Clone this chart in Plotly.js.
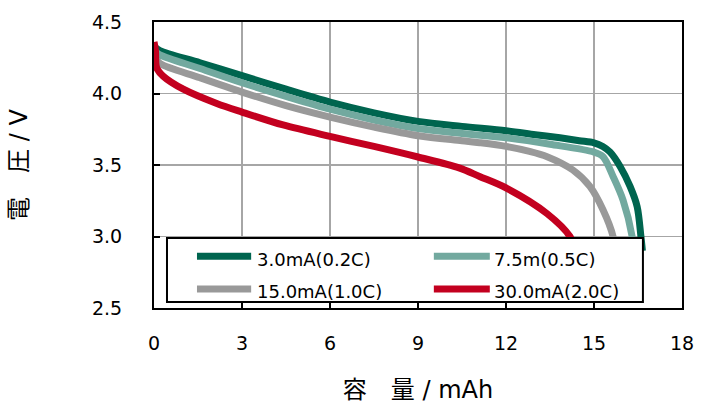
<!DOCTYPE html>
<html>
<head>
<meta charset="utf-8">
<script src="https://cdn.plot.ly/plotly-3.0.1.min.js"></script>
<style>html,body{margin:0;padding:0;background:#fff;}#chart{width:710px;height:410px;}</style>
</head>
<body>
<div id="chart"></div>
<script>
// Series names and colours
const seriesNames = ["3.0mA(0.2C)", "7.5m(0.5C)", "15.0mA(1.0C)", "30.0mA(2.0C)"];
const seriesColors = ["#00654f", "#72a99f", "#999999", "#c3001f"];

// Capacity (mAh) / voltage (V)
const cap02C = [0, 0.2, 1.57, 3, 4.5, 6, 7.5, 9, 10.5, 12, 13, 13.84, 14.5, 15, 15.3, 15.55, 15.89, 16.23, 16.47, 16.6, 16.65];
const volt02C = [4.33, 4.30, 4.215, 4.125, 4.03, 3.94, 3.865, 3.805, 3.77, 3.74, 3.712, 3.69, 3.67, 3.655, 3.63, 3.59, 3.49, 3.35, 3.21, 3.0, 2.9];

const cap05C = [0, 0.2, 1.57, 3, 4.5, 6, 7.5, 9, 10.5, 12, 13.5, 15, 15.31, 15.65, 15.99, 16.3, 16.35];
const volt05C = [4.30, 4.27, 4.175, 4.075, 3.98, 3.89, 3.815, 3.755, 3.72, 3.69, 3.645, 3.59, 3.558, 3.42, 3.255, 3.0, 2.9];

const cap10C = [0, 0.2, 1.57, 3, 4.5, 6, 7.5, 9, 10.5, 11.1, 12, 12.8, 13.4, 14.28, 14.86, 15.31, 15.65, 15.72];
const volt10C = [4.26, 4.21, 4.11, 4.01, 3.915, 3.835, 3.765, 3.705, 3.67, 3.656, 3.63, 3.595, 3.558, 3.465, 3.35, 3.185, 3.0, 2.9];

const cap20C = [0, 0.05, 0.09, 0.32, 1.0, 2.14, 3, 4.4, 6, 7.5, 9, 10.4, 11.1, 12, 13.4, 14.18, 14.4];
const volt20C = [4.36, 4.30, 4.18, 4.12, 4.03, 3.93, 3.87, 3.78, 3.70, 3.63, 3.556, 3.48, 3.42, 3.34, 3.16, 3.0, 2.88];

const xTicks = [0, 3, 6, 9, 12, 15, 18];
const yTicks = [2.5, 3.0, 3.5, 4.0, 4.5];
const yTickText = ["2.5", "3.0", "3.5", "4.0", "4.5"];

const xs = [cap02C, cap05C, cap10C, cap20C];
const ys = [volt02C, volt05C, volt10C, volt20C];

const font = "'DejaVu Sans', 'Noto Sans CJK JP', sans-serif";

const traces = seriesNames.map((n, i) => ({
  type: "scatter",
  mode: "lines",
  name: n,
  x: xs[i],
  y: ys[i],
  line: {color: seriesColors[i], width: 7, shape: "spline", smoothing: 0.9},
  hoverinfo: "skip",
  showlegend: false
}));

// Custom legend (2 columns x 2 rows) built from the series arrays
const legBox = {x0: 0.0246, x1: 0.926, y0: 0.021, y1: 0.2448};
const legCols = [{s0: 0.0814, s1: 0.184, t: 0.191}, {s0: 0.530, s1: 0.636, t: 0.640}];
const legRows = [0.181, 0.066];
const shapes = [{
  type: "rect", xref: "paper", yref: "paper",
  x0: legBox.x0, x1: legBox.x1, y0: legBox.y0, y1: legBox.y1,
  fillcolor: "#ffffff", line: {color: "#000", width: 2}, layer: "above"
}];
const annotations = [];
seriesNames.forEach((n, i) => {
  const c = legCols[i % 2], r = legRows[Math.floor(i / 2)];
  shapes.push({type: "line", xref: "paper", yref: "paper", x0: c.s0, x1: c.s1, y0: r, y1: r,
    line: {color: seriesColors[i], width: 7}, layer: "above"});
  annotations.push({xref: "paper", yref: "paper", x: c.t, y: r - 0.01, xanchor: "left", yanchor: "middle",
    text: n, showarrow: false, font: {family: font, size: 18, color: "#000"}});
});

const layout = {
  width: 710,
  height: 410,
  margin: {l: 154, r: 28, t: 22, b: 102},
  paper_bgcolor: "#ffffff",
  plot_bgcolor: "#ffffff",
  font: {family: font, color: "#000", size: 19},
  showlegend: false,
  shapes: shapes,
  annotations: annotations,
  xaxis: {
    range: [0, 18],
    tickvals: xTicks,
    ticktext: xTicks.map(String),
    showgrid: true,
    gridcolor: "#a6a6a6",
    gridwidth: 1.5,
    zeroline: false,
    showline: true,
    linecolor: "#000",
    linewidth: 2,
    mirror: true,
    ticks: "inside",
    ticklen: 6,
    tickwidth: 2,
    tickcolor: "#000",
    ticklabelstandoff: 17,
    tickfont: {family: font, size: 19},
    title: {text: "容　量 / mAh", font: {family: font, size: 24}, standoff: 28}
  },
  yaxis: {
    range: [2.5, 4.5],
    tickvals: yTicks,
    ticktext: yTickText,
    showgrid: true,
    gridcolor: "#a6a6a6",
    gridwidth: 1.5,
    zeroline: false,
    showline: true,
    linecolor: "#000",
    linewidth: 2,
    mirror: true,
    ticks: "inside",
    ticklen: 6,
    tickwidth: 2,
    tickcolor: "#000",
    ticklabelstandoff: 26,
    tickfont: {family: font, size: 19},
    title: {text: "電　圧 / V", font: {family: font, size: 24}, standoff: 58}
  }
};

Plotly.newPlot("chart", traces, layout, {staticPlot: true, displayModeBar: false});
</script>
</body>
</html>
